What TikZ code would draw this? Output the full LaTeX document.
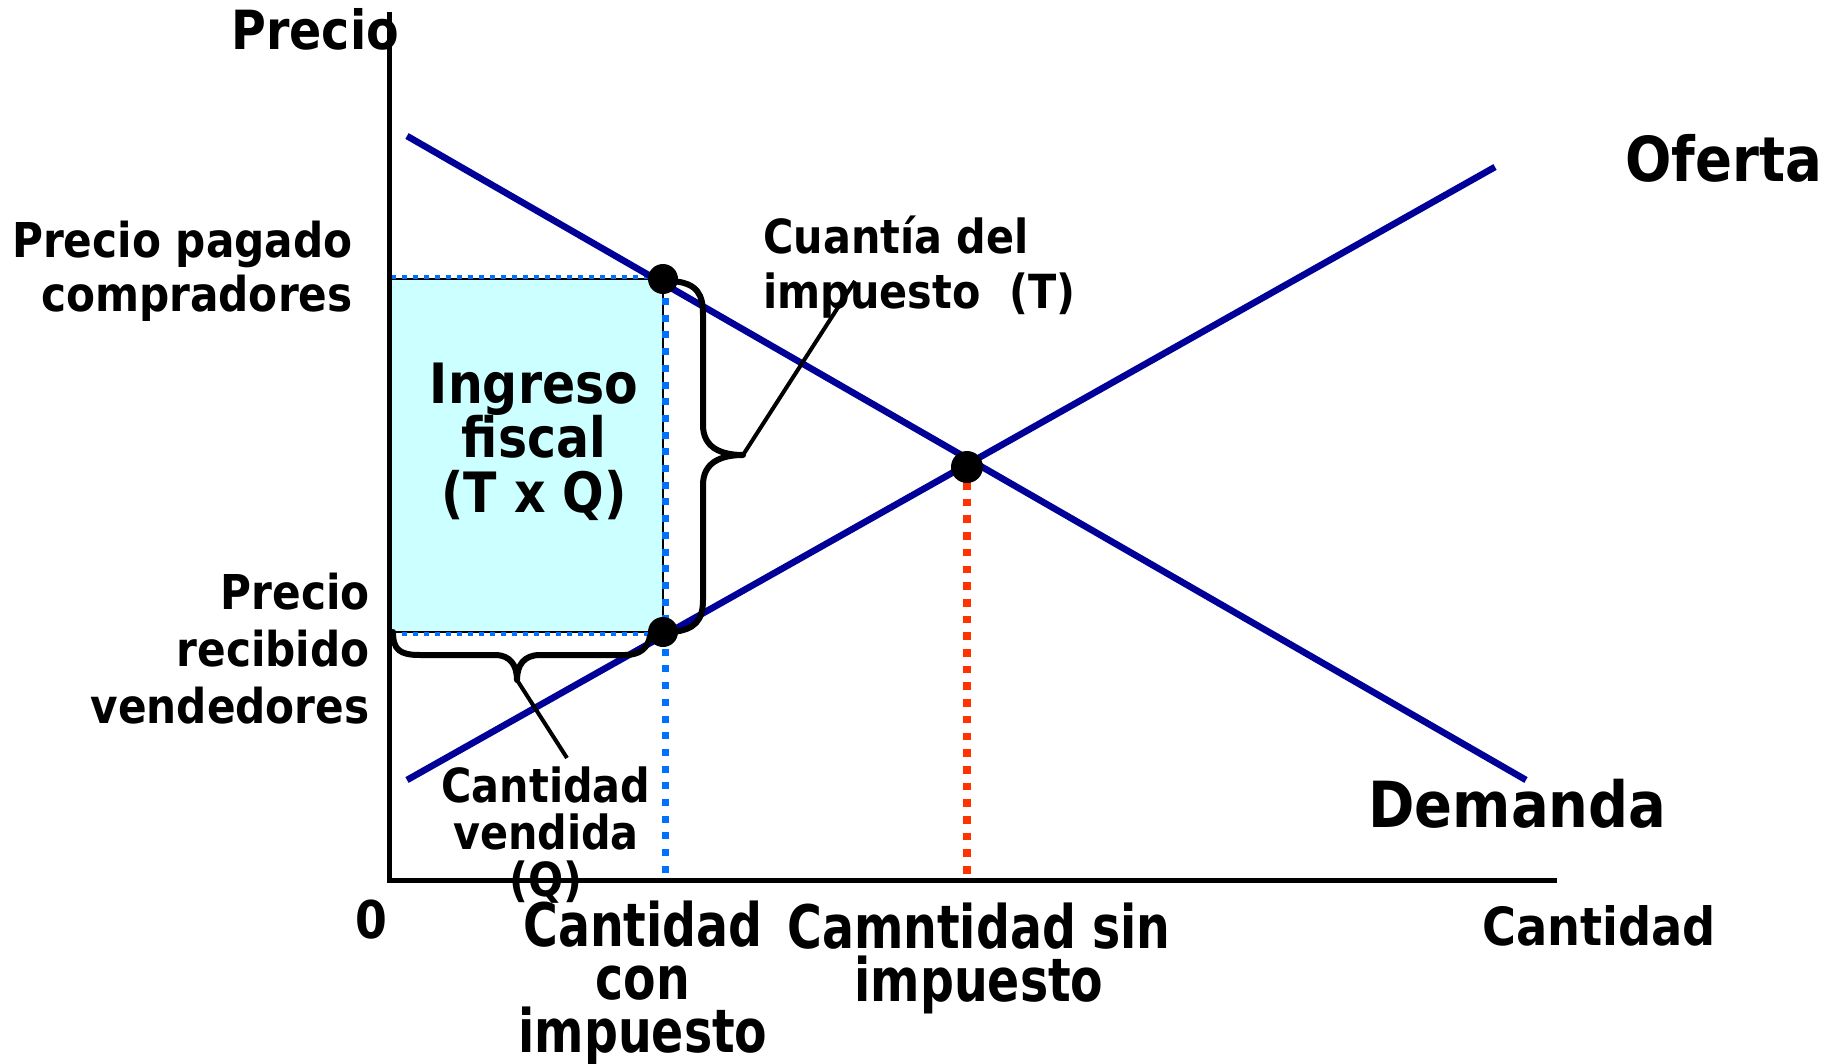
\documentclass[tikz,border=0pt]{standalone}
\usepackage{fontspec}
\setmainfont{DejaVu Sans}[FakeStretch=0.88]
\newfontfamily\angosta{DejaVu Sans}[FakeStretch=0.79]
\usetikzlibrary{positioning}
\definecolor{azulcurva}{RGB}{0,0,153}
\definecolor{azulguia}{RGB}{0,112,255}
\definecolor{rojoguia}{RGB}{255,51,0}
\definecolor{celeste}{RGB}{204,255,255}
\tikzset{
  eje/.style={line width=2.5pt},
  curva/.style={draw=azulcurva,line width=3.3pt},
  guiaazul/.style={draw=azulguia,line width=3.5pt,dash pattern=on 3.5pt off 4.85pt},
  guiafina/.style={draw=azulguia,line width=2pt,dash pattern=on 2.5pt off 3pt},
  guiaroja/.style={draw=rojoguia,line width=3.8pt,dash pattern=on 3.8pt off 4.55pt},
  llave/.style={line width=3pt,line join=round,line cap=round},
  guion/.style={line width=2pt},
  punto/.style={circle,fill=black,inner sep=0pt,minimum size=15pt},
  etiq/.style={inner sep=0pt,font=\bfseries}
}

\begin{document}
\begin{tikzpicture}[x=0.5pt,y=-0.5pt]
  \useasboundingbox (0,0) rectangle (1836,1064);
  \draw[fill=celeste,line width=1pt] (391,279) rectangle (663,632);
  \draw[guiafina] (391,277) -- (663,277);
  \draw[guiafina] (391,634) -- (663,634);
  \draw[guiaazul] (665,298) -- (665,880);
  \draw[guiaroja] (967,482) -- (967,880);
  \draw[eje] (389,12) -- (389,880) -- (1557,880);
  \draw[curva] (407,136) -- (1526,780);
  \draw[curva] (407,780) -- (1495,167);

  \node[punto] (pc) at (663,279) {};
  \node[punto] (pv) at (663,632) {};
  \node[punto,minimum size=16pt] (eq) at (967,467) {};

  \node[etiq,anchor=base west,font=\bfseries\fontsize{27}{30}\selectfont] (precio) at (231,50) {Precio};
  \node[etiq,anchor=base west,font=\bfseries\fontsize{31}{36}\selectfont] (oferta) at (1625,182) {Oferta};
  \node[etiq,anchor=base west,font=\bfseries\fontsize{31.8}{36}\selectfont] (demanda) at (1368,827) {Demanda};
  \node[etiq,anchor=base west,font=\bfseries\fontsize{26.3}{30}\selectfont] (cantidad) at (1482,945) {Cantidad};
  \node[etiq,anchor=base west,font=\bfseries\fontsize{26}{30}\selectfont] (origen) at (355,938) {0};
  \node[etiq,anchor=base west,align=left,font=\bfseries\fontsize{23.5}{27.5}\selectfont] (cuantia) at (763,308) {Cuantía del\\impuesto \ (T)};
  \node[etiq,anchor=base east,align=right,font=\bfseries\fontsize{24}{27.5}\selectfont] (ppagado) at (353,312) {Precio pagado\\compradores};
  \node[etiq,anchor=base east,align=right,font=\bfseries\fontsize{24}{28.5}\selectfont] (precibido) at (370,723) {Precio\\recibido\\vendedores};
  \node[etiq,anchor=base,align=center,font=\bfseries\fontsize{27.8}{27.25}\selectfont] (ingreso) at (534,512) {Ingreso\\fiscal\\(T x Q)};
  \node[etiq,anchor=base,align=center,font=\bfseries\fontsize{23.5}{23.5}\selectfont] (vendida) at (546,896) {Cantidad\\vendida\\(Q)};
  \node[etiq,anchor=base,align=center,font=\angosta\bfseries\fontsize{30}{26.5}\selectfont] (ccon) at (643,1052) {Cantidad\\con\\impuesto};
  \node[etiq,anchor=base,align=center,font=\angosta\bfseries\fontsize{30}{26.5}\selectfont] (csin) at (979,1001) {Camntidad sin\\impuesto};

  \coordinate (puntaT) at (743,455);
  \coordinate (puntaQ) at (517,680);
  \coordinate (finT) at (855,281);
  \coordinate (finQ) at (567,758);
  \draw[llave] (672,281) .. controls (698,283) and (703,295) .. (703,315) -- (703,425)
    .. controls (703,447) and (720,455) .. (puntaT)
    .. controls (720,455) and (703,463) .. (703,485) -- (703,600)
    .. controls (703,620) and (695,630) .. (672,632);
  \draw[llave] (393,632) .. controls (393,650) and (400,655) .. (420,655) -- (495,655)
    .. controls (510,655) and (517,665) .. (puntaQ)
    .. controls (517,665) and (524,655) .. (540,655) -- (625,655)
    .. controls (640,655) and (648,648) .. (650,636);
  \draw[guion] (puntaT) -- (finT);
  \draw[guion] (puntaQ) -- (finQ);
\end{tikzpicture}
\end{document}
